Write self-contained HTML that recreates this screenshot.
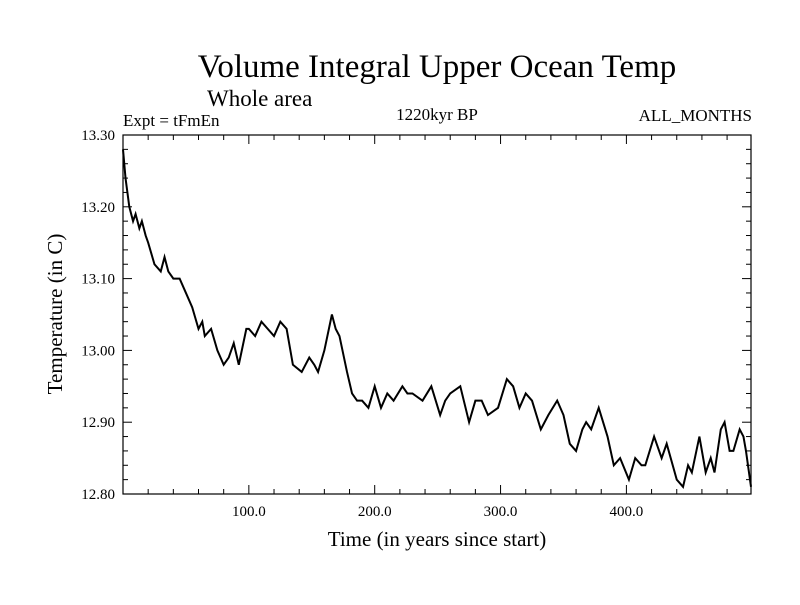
<!DOCTYPE html>
<html><head><meta charset="utf-8"><style>
body{margin:0;background:#fff}
text{font-family:"Liberation Serif",serif;fill:#000}
</style></head><body>
<svg id="c" width="800" height="600">
<text x="437" y="77" font-size="33" text-anchor="middle">Volume Integral Upper Ocean Temp</text>
<text x="207" y="106" font-size="23">Whole area</text>
<text x="123" y="126" font-size="17">Expt = tFmEn</text>
<text x="437" y="120" font-size="17" text-anchor="middle">1220kyr BP</text>
<text x="752" y="121" font-size="17" text-anchor="end">ALL_MONTHS</text>
<text x="437" y="546" font-size="21" text-anchor="middle">Time (in years since start)</text>
<text transform="translate(62,314) rotate(-90)" font-size="21" text-anchor="middle">Temperature (in C)</text>
<g id="axes"></g>
<rect x="123" y="135" width="628" height="359" fill="none" stroke="#000" stroke-width="1.2"/>
</svg>
<script>
const years=[0,2,5,8,10,13,15,18,20,25,30,33,36,40,45,50,55,60,63,65,70,75,80,84,88,92,98,100,105,110,115,120,125,130,135,142,148,152,155,160,166,169,172,178,182,186,190,195,200,205,210,215,222,226,230,238,245,252,256,260,268,275,280,285,290,298,305,310,315,320,325,332,338,345,350,355,360,365,368,372,378,385,390,395,402,407,412,415,422,428,432,440,445,449,452,458,463,467,470,475,478,482,485,490,493,495,499];
const temps=[13.28,13.24,13.2,13.18,13.19,13.17,13.18,13.16,13.15,13.12,13.11,13.13,13.11,13.1,13.1,13.08,13.06,13.03,13.04,13.02,13.03,13.0,12.98,12.99,13.01,12.98,13.03,13.03,13.02,13.04,13.03,13.02,13.04,13.03,12.98,12.97,12.99,12.98,12.97,13.0,13.05,13.03,13.02,12.97,12.94,12.93,12.93,12.92,12.95,12.92,12.94,12.93,12.95,12.94,12.94,12.93,12.95,12.91,12.93,12.94,12.95,12.9,12.93,12.93,12.91,12.92,12.96,12.95,12.92,12.94,12.93,12.89,12.91,12.93,12.91,12.87,12.86,12.89,12.9,12.89,12.92,12.88,12.84,12.85,12.82,12.85,12.84,12.84,12.88,12.85,12.87,12.82,12.81,12.84,12.83,12.88,12.83,12.85,12.83,12.89,12.9,12.86,12.86,12.89,12.88,12.86,12.81];
const yTickLabels=["12.80","12.90","13.00","13.10","13.20","13.30"];
const xTickLabels=["100.0","200.0","300.0","400.0"];
const X0=123,X1=751,Y0=494,Y1=135;
const xs=v=>X0+(v-0)/(499-0)*(X1-X0);
const ys=v=>Y0-(v-12.8)/(0.5)*(Y0-Y1);
const ns="http://www.w3.org/2000/svg",g=document.getElementById('axes');
function ln(x1,y1,x2,y2,w){const l=document.createElementNS(ns,'line');l.setAttribute('x1',x1);l.setAttribute('y1',y1);l.setAttribute('x2',x2);l.setAttribute('y2',y2);l.setAttribute('stroke','#000');l.setAttribute('stroke-width',w||1);


g.appendChild(l);}
function tx(x,y,s,a){const t=document.createElementNS(ns,'text');t.setAttribute('x',x);t.setAttribute('y',y);t.setAttribute('font-size','15');t.setAttribute('text-anchor',a);t.textContent=s;


g.appendChild(t);}
for(let v=12.8;v<=13.3001;v+=0.02){const y=ys(v);const maj=Math.abs(Math.round(v*10)-v*10)<0.01;const L=maj?9:5;ln(X0,y,X0+L,y);ln(X1,y,X1-L,y);}
yTickLabels.forEach(s=>tx(X0-8,ys(+s)+5,s,'end'));
for(let v=20;v<499;v+=20){const x=xs(v);const L=v%100==0?9:5;ln(x,Y0,x,Y0-L);ln(x,Y1,x,Y1+L);}
xTickLabels.forEach(s=>tx(xs(+s),Y0+22,s,'middle'));
const p=document.createElementNS(ns,'polyline');
p.setAttribute('points',years.map((y,i)=>xs(y)+','+ys(temps[i])).join(' '));
p.setAttribute('fill','none');p.setAttribute('stroke','#000');p.setAttribute('stroke-width','2');


g.appendChild(p);
</script>
</body></html>
